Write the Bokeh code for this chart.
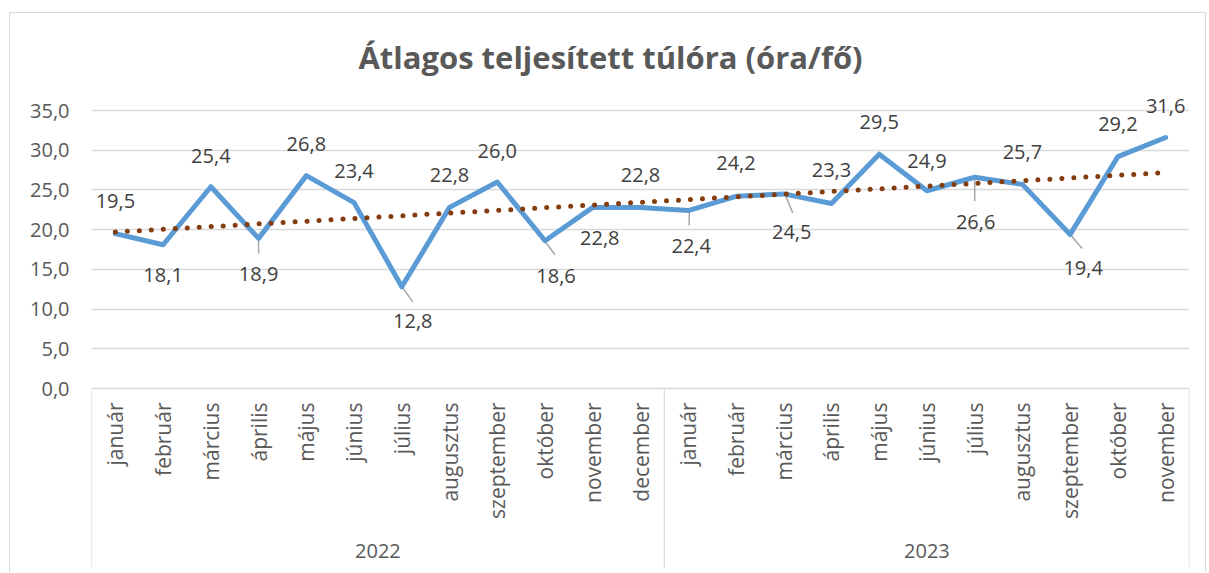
import numpy as np
from bokeh.plotting import figure
from bokeh.models import FactorRange, Range1d, FixedTicker
from bokeh.core.properties import value
from bokeh.embed import file_html
from bokeh.resources import INLINE

# ---------------- data ----------------
title_text = "Átlagos teljesített túlóra (óra/fő)"
years = ["2022", "2023"]
months_2022 = ["január", "február", "március", "április", "május", "június",
               "július", "augusztus", "szeptember", "október", "november", "december"]
months_2023 = ["január", "február", "március", "április", "május", "június",
               "július", "augusztus", "szeptember", "október", "november"]
values_2022 = [19.5, 18.1, 25.4, 18.9, 26.8, 23.4, 12.8, 22.8, 26.0, 18.6, 22.8, 22.8]
values_2023 = [22.4, 24.2, 24.5, 23.3, 29.5, 24.9, 26.6, 25.7, 19.4, 29.2, 31.6]
y_ticks = [0, 5, 10, 15, 20, 25, 30, 35]
y_tick_labels = ["0,0", "5,0", "10,0", "15,0", "20,0", "25,0", "30,0", "35,0"]

# ---------------- layout / style ----------------
W, H = 1197, 560
FL, FR = 81, 18            # frame borders (left / right)
ZERO_PX = 375              # pixel row of value 0 from top of canvas
TOP35_PX = 97              # pixel row of value 35
PPU = (ZERO_PX - TOP35_PX) / 35.0
XPPU = (W - FL - FR) / 23.0
FONT_NAME = "Open Sans"
FONT = value(FONT_NAME)
GRID = "#D9D9D9"
TXT = "#595959"
LAB = "#404040"

# data-label pixel offsets (label centre relative to point)
lab_dx = [0, 0, 0, 0, 0, 0, 11, 0, 0, 11, 7, 0, 3, 0, 8, 0, 0, 0, 1, 0, 13, 0, 0]
lab_dy = [-33, 30, -31, 36, -32, -32, 34, -32, -31, 35, 31, -32, 35, -33, 38, -33,
          -32, -30, 45, -32, 34, -33, -32]
# leader lines: index, start (dx,dy), end (dx,dy) in pixels
leaders = [(3, (0, 2), (0, 15)), (6, (1, 1), (11, 15)), (9, (1, 2), (10, 14)),
           (12, (1, 1), (1, 15)), (14, (2, 2), (9, 19)), (18, (0, 0), (0, 24)),
           (20, (1, 1), (12, 14))]

factors = [(years[0], m) for m in months_2022] + [(years[1], m) for m in months_2023]
vals = values_2022 + values_2023
idx = np.arange(len(vals))
coef = np.polyfit(idx, vals, 1)
trend = list(np.polyval(coef, idx))

x_range = FactorRange(*factors, range_padding=0, group_padding=0,
                      factor_padding=0, subgroup_padding=0)
y_range = Range1d(-(H - ZERO_PX) / PPU, ZERO_PX / PPU)

p = figure(width=W, height=H, x_range=x_range, y_range=y_range,
           output_backend="svg", toolbar_location=None, title=None,
           x_axis_location=None, min_border_left=FL, min_border_right=FR,
           min_border_top=0, min_border_bottom=0)
p.outline_line_color = None
p.background_fill_color = "white"
p.border_fill_color = "white"
p.styles = {"margin-left": "9px", "margin-top": "12px",
            "border-left": "1px solid #D9D9D9", "border-top": "1px solid #D9D9D9",
            "border-right": "1px solid #D9D9D9"}

# y axis and grid
yax = p.yaxis[0]
yax.ticker = FixedTicker(ticks=y_ticks)
yax.major_label_overrides = {t: l for t, l in zip(y_ticks, y_tick_labels)}
yax.axis_line_color = None
yax.major_tick_line_color = None
yax.minor_tick_line_color = None
yax.major_tick_in = 0
yax.major_tick_out = 0
yax.major_label_standoff = 22
yax.major_label_text_font = FONT_NAME
yax.major_label_text_font_size = "20px"
yax.major_label_text_color = TXT
p.xgrid.visible = False
p.ygrid.ticker = FixedTicker(ticks=y_ticks)
p.ygrid.grid_line_color = GRID
p.ygrid.grid_line_width = 1.3

# category box lines
first_f = factors[0]
sep_x = [(first_f[0], first_f[1], -0.5),
         (years[1], months_2023[0], -0.5),
         (years[1], months_2023[-1], 0.5)]
box_bottom = -(554 - ZERO_PX) / PPU
p.segment(x0=sep_x, y0=[0] * 3, x1=sep_x, y1=[box_bottom] * 3,
          line_color=GRID, line_width=1.3)

# month labels
p.text(x=factors, y=[0] * len(factors), text=[f[1] for f in factors],
       angle=np.pi / 2, y_offset=14, text_align="right", text_baseline="middle",
       text_font=FONT, text_font_size="21px", text_color=TXT)
# year labels
p.text(x=years, y=[0, 0], text=years, y_offset=162, text_align="center",
       text_baseline="middle", text_font=FONT, text_font_size="20px", text_color=TXT)

# title
p.text(x=[(first_f[0], first_f[1], -0.5)], y=[0], text=[title_text],
       x_offset=519, y_offset=-332, text_align="center", text_baseline="middle",
       text_font=FONT, text_font_size="31px", text_font_style="bold", text_color=TXT)

# leader lines
lx0, ly0, lx1, ly1 = [], [], [], []
for i, (sx, sy), (ex, ey) in leaders:
    f = factors[i]
    lx0.append((f[0], f[1], sx / XPPU)); ly0.append(vals[i] - sy / PPU)
    lx1.append((f[0], f[1], ex / XPPU)); ly1.append(vals[i] - ey / PPU)
p.segment(x0=lx0, y0=ly0, x1=lx1, y1=ly1, line_color="#A6A6A6", line_width=1.5)

# data line
p.line(x=factors, y=vals, line_color="#5B9BD5", line_width=5,
       line_join="round", line_cap="round")
# trend line (linear)
p.line(x=factors, y=trend, line_color="#843C0C", line_width=5,
       line_dash="0 12", line_cap="round")

# data labels
p.text(x=factors, y=vals, text=[f"{v:.1f}".replace(".", ",") for v in vals],
       x_offset=lab_dx, y_offset=lab_dy, text_align="center", text_baseline="middle",
       text_font=FONT, text_font_size="20px", text_color=LAB)

open("out.html", "w").write(file_html(p, INLINE))
